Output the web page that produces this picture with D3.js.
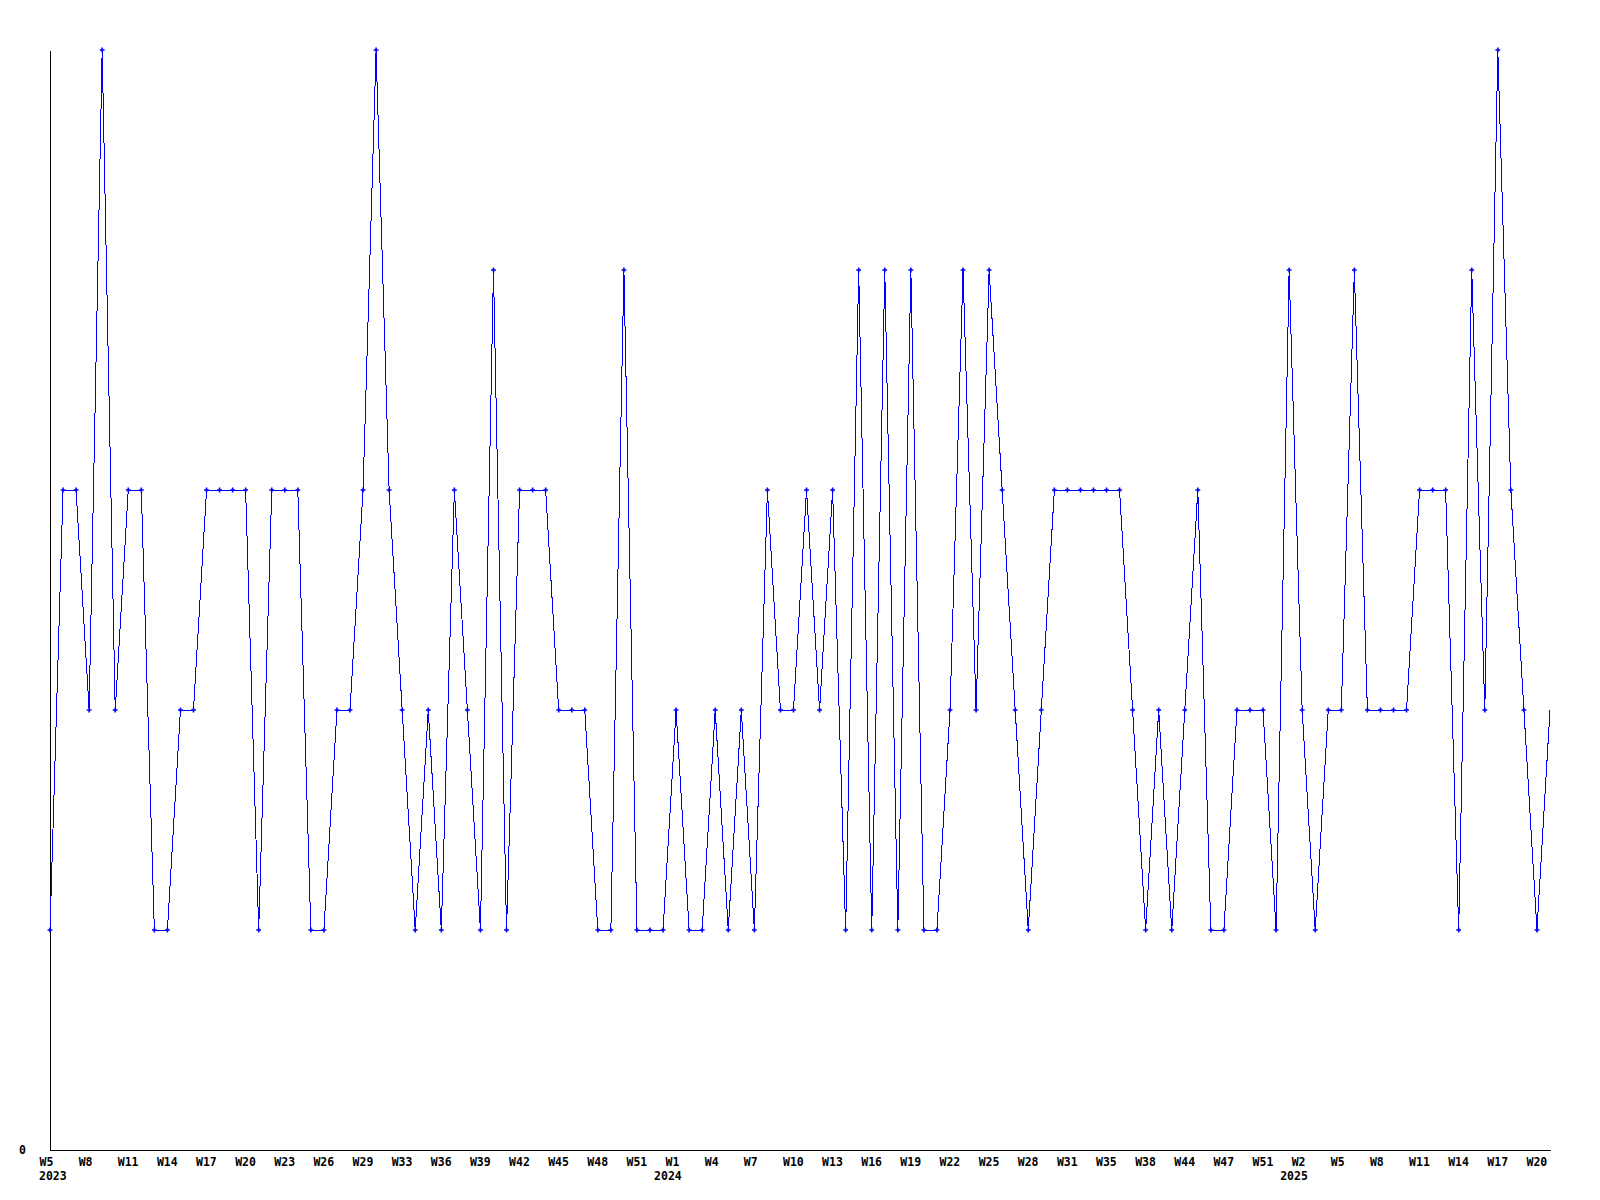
<!DOCTYPE html>
<html>
<head>
<meta charset="utf-8">
<script src="https://cdn.jsdelivr.net/npm/d3@7"></script>
<style>
  html, body { margin: 0; padding: 0; background: #ffffff; }
  svg { display: block; }
  text { font-family: "DejaVu Sans Mono", "Liberation Mono", monospace; font-weight: bold; font-size: 11.5px; fill: #000; }
</style>
</head>
<body>
<svg id="chart" width="1600" height="1200"></svg>
<script>
// Weekly values, 2023 W5 .. 2025 W21 (one point per reported week)
const values = [
  1,3,3,2,5,2,3,3,1,1,2,2,3,3,3,3,1,3,3,3,1,1,2,2,3,5,3,2,1,2,
  1,3,2,1,4,1,3,3,3,2,2,2,1,1,4,1,1,1,2,1,1,2,1,2,1,3,2,2,3,2,
  3,1,4,1,4,1,4,1,1,2,4,2,4,3,2,1,2,3,3,3,3,3,3,2,1,2,1,2,3,1,
  1,2,2,2,1,4,2,1,2,2,4,2,2,2,2,3,3,3,1,4,2,5,3,2,1,2
];
// x tick labels, one every third point
const tickLabels = [
  "W5","W8","W11","W14","W17","W20","W23","W26","W29","W33","W36","W39","W42","W45","W48","W51",
  "W1","W4","W7","W10","W13","W16","W19","W22","W25","W28","W31","W35","W38","W44","W47","W51",
  "W2","W5","W8","W11","W14","W17","W20"
];
const tickStep = 3;
// year labels and the tick they sit under
const yearLabels = ["2023","2024","2025"];
const yearTickIndex = [0, 16, 32];
const yTicks = [0];

(function () {
const svg = d3.select("#chart");
const mLeft = 50, mRight = 1550, mTop = 50, mBottom = 1150;

const x = d3.scaleLinear().domain([0, values.length - 1]).range([mLeft, mRight]);
const y = d3.scaleLinear().domain([0, 5]).range([mBottom, mTop]);

// X axis
const tickIdx = tickLabels.map((d, i) => i * tickStep);
const xAxis = d3.axisBottom(x)
  .tickValues(tickIdx)
  .tickFormat((d, i) => tickLabels[i])
  .tickSize(0)
  .tickSizeOuter(0)
  .tickPadding(8);
const gx = svg.append("g").attr("transform", `translate(0,${mBottom})`).call(xAxis);
gx.attr("font-family", null).attr("font-size", null);
gx.select(".domain").attr("stroke", "#000").attr("stroke-width", 1).attr("shape-rendering", "crispEdges");
gx.selectAll(".tick text")
  .attr("text-anchor", "start")
  .attr("x", -11);

// Year labels
svg.append("g").selectAll("text")
  .data(yearLabels)
  .join("text")
  .attr("x", (d, i) => Math.max(x(tickIdx[yearTickIndex[i]]) - 22, mLeft - 11))
  .attr("y", mBottom + 30)
  .text(d => d);

// Y axis
const yAxis = d3.axisLeft(y)
  .tickValues(yTicks)
  .tickFormat(d3.format("d"))
  .tickSize(0)
  .tickSizeOuter(0)
  .tickPadding(24);
const gy = svg.append("g").attr("transform", `translate(${mLeft},0)`).call(yAxis);
gy.attr("font-family", null).attr("font-size", null);
gy.select(".domain").attr("stroke", "#000").attr("stroke-width", 1).attr("shape-rendering", "crispEdges");

// Line
const line = d3.line().x((d, i) => x(i)).y(d => y(d));
svg.append("path")
  .datum(values)
  .attr("fill", "none")
  .attr("stroke", "#0000ff")
  .attr("stroke-width", 1)
  .attr("shape-rendering", "crispEdges")
  .attr("d", line);

// Markers (the last point sits on the plot edge and is not marked)
const cross = d3.symbol().type(d3.symbolCross).size(13);
svg.append("g").selectAll("path")
  .data(values.slice(0, values.length - 1))
  .join("path")
  .attr("transform", (d, i) => `translate(${x(i)},${y(d)})`)
  .attr("d", cross)
  .attr("fill", "#0000ff");
})();
</script>
</body>
</html>
